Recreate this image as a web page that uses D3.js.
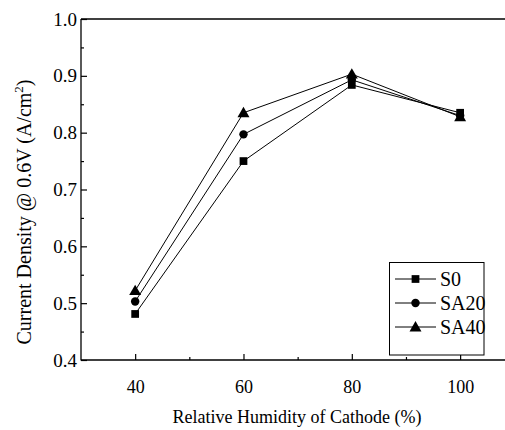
<!DOCTYPE html>
<html><head><meta charset="utf-8">
<script src="https://cdn.jsdelivr.net/npm/d3@7"></script>
<style>body{margin:0;background:#fff}</style>
</head><body><svg id="c" width="505" height="430"></svg>
<script>
const humidity = [40, 60, 80, 100];
const seriesNames = ["S0", "SA20", "SA40"];
const S0 = [0.481, 0.750, 0.884, 0.835];
const SA20 = [0.503, 0.797, 0.893, 0.830];
const SA40 = [0.522, 0.835, 0.903, 0.828];
const yTicks = [0.4, 0.5, 0.6, 0.7, 0.8, 0.9, 1.0];
const xTicks = [40, 60, 80, 100];
const seriesValues = [S0, SA20, SA40];
const symbols = [d3.symbolSquare, d3.symbolCircle, d3.symbolTriangle];
const symSize = [60, 56, 62];
const FONT = "Liberation Serif";

const svg = d3.select("#c");
const L = 81, R = 504, T = 19, B = 360;
const x = d3.scaleLinear().domain([30, 108.1]).range([L, R]);
const y = d3.scaleLinear().domain([0.4, 1.0]).range([B, T]);

// top frame
svg.append("line").attr("x1", L).attr("x2", R+1).attr("y1", T).attr("y2", T).attr("stroke", "#000").attr("stroke-width", 1.3);

const gx = svg.append("g").attr("transform", `translate(0,${B})`)
  .call(d3.axisBottom(x).tickValues(xTicks).tickSize(-6).tickPadding(20).tickFormat(d3.format("d")));
const gxm = svg.append("g").attr("transform", `translate(0,${B})`)
  .call(d3.axisBottom(x).tickValues([50, 70, 90]).tickSize(-3).tickFormat(""));
const gy = svg.append("g").attr("transform", `translate(${L},0)`)
  .call(d3.axisLeft(y).tickValues(yTicks).tickSize(-6).tickPadding(4).tickFormat(d3.format(".1f")));
const gym = svg.append("g").attr("transform", `translate(${L},0)`)
  .call(d3.axisLeft(y).tickValues([0.45, 0.55, 0.65, 0.75, 0.85, 0.95]).tickSize(-3).tickFormat(""));
[gx, gxm, gy, gym].forEach(g => {
  g.attr("font-family", FONT).attr("font-size", 18);
  g.selectAll("line").attr("stroke-width", 1.2);
  g.selectAll("text").attr("font-family", FONT).attr("font-size", 18).attr("fill", "#000");
});
gy.selectAll("text").attr("font-size", 19);
gx.select(".domain").attr("stroke-width", 1.3).attr("d", `M${L},0H${R+1}`);
gxm.select(".domain").remove();
gy.select(".domain").attr("stroke-width", 1.3).attr("d", `M0,${B+0.5}V${T}`);
gym.select(".domain").remove();
gx.selectAll("text").attr("dy", "0.71em");

// lines and markers
const line = d3.line().x((d, i) => x(humidity[i])).y(d => y(d));
seriesValues.forEach((vals, si) => {
  svg.append("path").attr("d", line(vals)).attr("fill", "none").attr("stroke", "#000").attr("stroke-width", 1);
  svg.selectAll(null).data(vals).enter().append("path")
    .attr("d", d3.symbol().type(symbols[si]).size(symSize[si]))
    .attr("transform", (d, i) => `translate(${x(humidity[i])},${y(d) + (si === 2 ? 1 : 0)})`)
    .attr("fill", "#000");
});

// legend
const lg = svg.append("g");
lg.append("rect").attr("x", 389.5).attr("y", 262.5).attr("width", 94.5).attr("height", 92.5)
  .attr("fill", "#fff").attr("stroke", "#000").attr("stroke-width", 1);
seriesNames.forEach((n, i) => {
  const yy = 279 + i * 24;
  lg.append("line").attr("x1", 395).attr("x2", 436).attr("y1", yy).attr("y2", yy).attr("stroke", "#000");
  lg.append("path").attr("d", d3.symbol().type(symbols[i]).size(symSize[i]))
    .attr("transform", `translate(415.5,${yy + (i === 2 ? 1 : 0)})`).attr("fill", "#000");
  lg.append("text").attr("x", 440).attr("y", yy).attr("dy", "0.35em").attr("font-family", FONT).attr("font-size", 20).text(n);
});

// axis titles
svg.append("text").attr("x", 297).attr("y", 423).attr("text-anchor", "middle").attr("font-family", FONT).attr("font-size", 18)
  .text("Relative Humidity of Cathode (%)");
const yt = svg.append("text").attr("transform", "translate(31,212) rotate(-90)").attr("text-anchor", "middle").attr("font-family", FONT).attr("font-size", 20);
yt.append("tspan").text("Current Density @ 0.6V (A/cm");
yt.append("tspan").attr("dy", "-8").attr("font-size", 13).text("2");
yt.append("tspan").attr("dy", "8").text(")");
</script></body></html>
